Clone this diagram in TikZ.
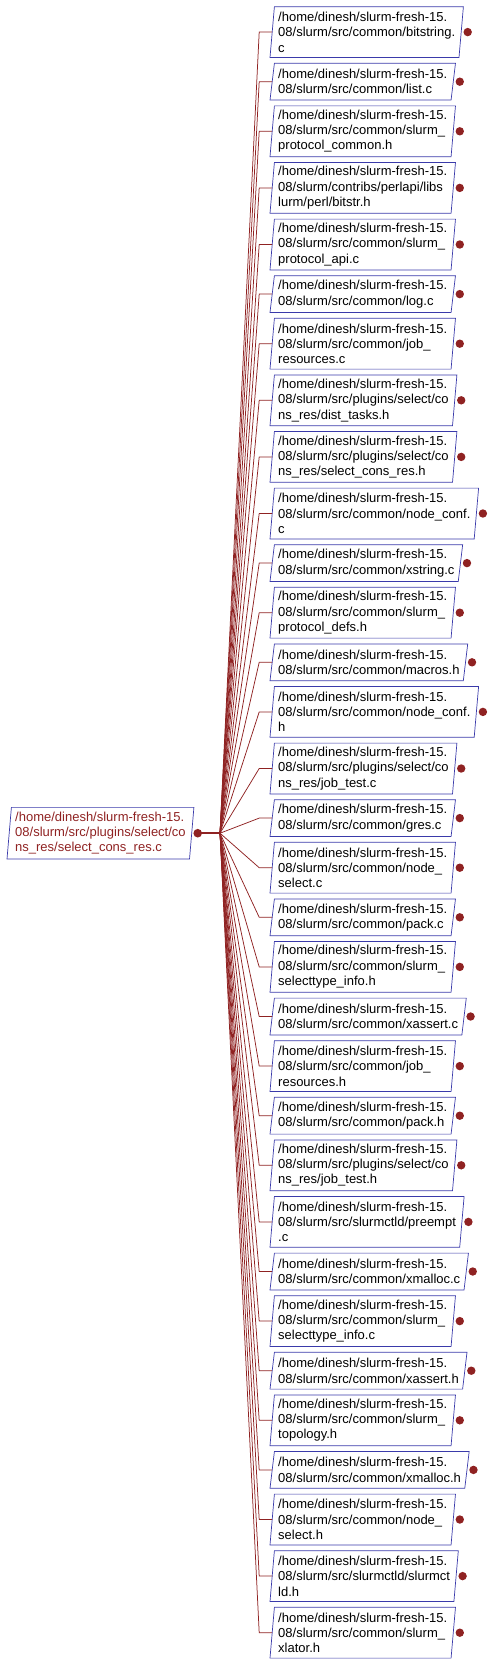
\documentclass[tikz,border=0pt]{standalone}
\usepackage{fontspec}
\setmainfont{Liberation Sans}
\usepackage{xcolor}
\usetikzlibrary{positioning}

\definecolor{edgered}{HTML}{8F2222}
\definecolor{boxblue}{HTML}{3A3AAA}
\newcommand{\filefont}{\fontsize{13}{15.3}\selectfont}
\newcommand{\slurmdir}{/home/dinesh/slurm-fresh-15.\\08/slurm}
% slanted outline drawn round a named node
\newcommand{\fileoutline}[1]{%
  \draw[border] ([xshift=2.2pt]#1.north west) -- ([xshift=2.2pt]#1.north east)
    -- ([xshift=-2.2pt]#1.south east) -- ([xshift=-2.2pt]#1.south west) -- cycle;}

\begin{document}
\begin{tikzpicture}[
  x=1pt,y=1pt,
  file/.style={font=\filefont,align=left,inner xsep=6pt,inner ysep=1pt,outer sep=0pt,anchor=north west},
  file3/.style={file,minimum height=50.8pt},
  file2/.style={file,minimum height=36.8pt},
  border/.style={draw=boxblue,line width=0.7pt},
  edge/.style={draw=edgered,line width=0.75pt},
  tipdot/.style={fill=edgered}]
\useasboundingbox (0,0) rectangle (496,-1667);
\node[file,anchor=west,text=edgered,minimum height=51.7pt] (root) at (9.2,-833.2) {\slurmdir/src/plugins/select/co\\ns\_res/select\_cons\_res.c};
\coordinate (hub) at ([xshift=28.3pt]root.east);

\node[file3] (f1) at (272.2,-6.7) {\slurmdir/src/common/bitstring.\\c};
\node[file2,below right=5.8pt and 0pt of f1.south west] (f2) {\slurmdir/src/common/list.c};
\node[file3,below right=5.8pt and 0pt of f2.south west] (f3) {\slurmdir/src/common/slurm\_\\protocol\_common.h};
\node[file3,below right=5.8pt and 0pt of f3.south west] (f4) {\slurmdir/contribs/perlapi/libs\\lurm/perl/bitstr.h};
\node[file3,below right=5.8pt and 0pt of f4.south west] (f5) {\slurmdir/src/common/slurm\_\\protocol\_api.c};
\node[file2,below right=5.8pt and 0pt of f5.south west] (f6) {\slurmdir/src/common/log.c};
\node[file3,below right=5.8pt and 0pt of f6.south west] (f7) {\slurmdir/src/common/job\_\\resources.c};
\node[file3,below right=5.8pt and 0pt of f7.south west] (f8) {\slurmdir/src/plugins/select/co\\ns\_res/dist\_tasks.h};
\node[file3,below right=5.8pt and 0pt of f8.south west] (f9) {\slurmdir/src/plugins/select/co\\ns\_res/select\_cons\_res.h};
\node[file3,below right=5.8pt and 0pt of f9.south west] (f10) {\slurmdir/src/common/node\_conf.\\c};
\node[file2,below right=5.8pt and 0pt of f10.south west] (f11) {\slurmdir/src/common/xstring.c};
\node[file3,below right=5.8pt and 0pt of f11.south west] (f12) {\slurmdir/src/common/slurm\_\\protocol\_defs.h};
\node[file2,below right=5.8pt and 0pt of f12.south west] (f13) {\slurmdir/src/common/macros.h};
\node[file3,below right=5.8pt and 0pt of f13.south west] (f14) {\slurmdir/src/common/node\_conf.\\h};
\node[file3,below right=5.8pt and 0pt of f14.south west] (f15) {\slurmdir/src/plugins/select/co\\ns\_res/job\_test.c};
\node[file2,below right=5.8pt and 0pt of f15.south west] (f16) {\slurmdir/src/common/gres.c};
\node[file3,below right=5.8pt and 0pt of f16.south west] (f17) {\slurmdir/src/common/node\_\\select.c};
\node[file2,below right=5.8pt and 0pt of f17.south west] (f18) {\slurmdir/src/common/pack.c};
\node[file3,below right=5.8pt and 0pt of f18.south west] (f19) {\slurmdir/src/common/slurm\_\\selecttype\_info.h};
\node[file2,below right=5.8pt and 0pt of f19.south west] (f20) {\slurmdir/src/common/xassert.c};
\node[file3,below right=5.8pt and 0pt of f20.south west] (f21) {\slurmdir/src/common/job\_\\resources.h};
\node[file2,below right=5.8pt and 0pt of f21.south west] (f22) {\slurmdir/src/common/pack.h};
\node[file3,below right=5.8pt and 0pt of f22.south west] (f23) {\slurmdir/src/plugins/select/co\\ns\_res/job\_test.h};
\node[file3,below right=5.8pt and 0pt of f23.south west] (f24) {\slurmdir/src/slurmctld/preempt\\.c};
\node[file2,below right=5.8pt and 0pt of f24.south west] (f25) {\slurmdir/src/common/xmalloc.c};
\node[file3,below right=5.8pt and 0pt of f25.south west] (f26) {\slurmdir/src/common/slurm\_\\selecttype\_info.c};
\node[file2,below right=5.8pt and 0pt of f26.south west] (f27) {\slurmdir/src/common/xassert.h};
\node[file3,below right=5.8pt and 0pt of f27.south west] (f28) {\slurmdir/src/common/slurm\_\\topology.h};
\node[file2,below right=5.8pt and 0pt of f28.south west] (f29) {\slurmdir/src/common/xmalloc.h};
\node[file3,below right=5.8pt and 0pt of f29.south west] (f30) {\slurmdir/src/common/node\_\\select.h};
\node[file3,below right=5.8pt and 0pt of f30.south west] (f31) {\slurmdir/src/slurmctld/slurmct\\ld.h};
\node[file3,below right=5.8pt and 0pt of f31.south west] (f32) {\slurmdir/src/common/slurm\_\\xlator.h};

% outlines
\fileoutline{root}
\foreach \i in {1,...,32} {\fileoutline{f\i}}

% edges fanning out from the root
\foreach \i in {1,...,32}
  \draw[edge] (hub) -- ([xshift=-13pt]f\i.west) -- (f\i.west);
\draw[edge,line width=2pt] ([xshift=6pt]root.east) -- (hub);
\fill[tipdot] ([xshift=6pt]root.east) circle (4.3pt);
\foreach \i in {1,...,32}
  \fill[tipdot] ([xshift=6.5pt]f\i.east) circle (4.2pt);
\end{tikzpicture}
\end{document}
